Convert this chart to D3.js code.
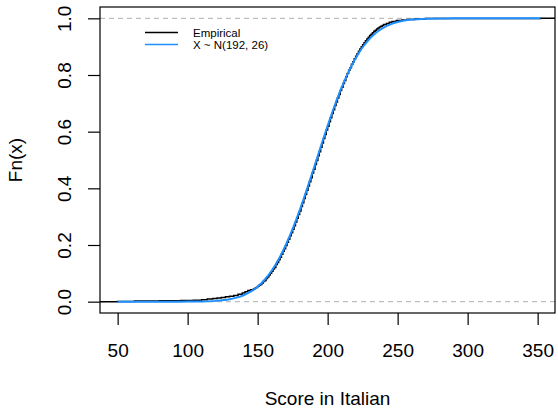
<!DOCTYPE html>
<html>
<head>
<meta charset="utf-8">
<script src="https://cdn.jsdelivr.net/npm/d3@7"></script>
<style>
  body { margin: 0; background: #fff; }
  svg { font-family: "Liberation Sans", Arial, Helvetica, sans-serif; }
</style>
</head>
<body>
<svg id="chart"></svg>
<script>
// empirical cdf knots (score, Fn)
const empX = [50, 62, 80, 95, 104, 110, 114, 118, 121, 124, 127, 130, 133, 136, 139, 141, 143, 145, 147,
  148, 149, 150, 151, 152, 153, 154, 155, 156, 157, 158, 159, 160, 161, 162, 163, 164, 165, 166, 167, 168, 169,
  170, 171, 172, 173, 174, 175, 176, 177, 178, 179, 180, 181, 182, 183, 184, 185, 186, 187, 188, 189,
  190, 191, 192, 193, 194, 195, 196, 197, 198, 199, 200, 201, 202, 203, 204, 205, 206, 207, 208, 209,
  210, 211, 212, 213, 214, 215, 216, 217, 218, 219, 220, 221, 222, 223, 224, 225, 226, 227, 228, 229,
  230, 231, 232, 233, 234, 235, 236, 237, 238, 239, 240, 242, 244, 246, 249, 253, 257, 262, 270, 352];
const empY = [0.001, 0.002, 0.003, 0.004, 0.005, 0.007, 0.009, 0.011, 0.013, 0.015, 0.017, 0.019, 0.022, 0.026, 0.031, 0.035, 0.039, 0.042, 0.045,
  0.047, 0.050, 0.054, 0.058, 0.061, 0.066, 0.071, 0.075, 0.082, 0.087, 0.094, 0.100, 0.107, 0.115, 0.121, 0.131, 0.138, 0.148, 0.157, 0.167, 0.178, 0.187,
  0.198, 0.210, 0.220, 0.233, 0.243, 0.256, 0.268, 0.281, 0.294, 0.308, 0.320, 0.336, 0.349, 0.364, 0.378, 0.393, 0.408, 0.423, 0.437, 0.454,
  0.467, 0.484, 0.498, 0.515, 0.529, 0.545, 0.560, 0.576, 0.590, 0.606, 0.619, 0.635, 0.649, 0.664, 0.677, 0.692, 0.705, 0.719, 0.731, 0.745,
  0.757, 0.770, 0.781, 0.794, 0.805, 0.817, 0.826, 0.838, 0.847, 0.857, 0.866, 0.875, 0.884, 0.892, 0.900, 0.907, 0.914, 0.921, 0.927, 0.933,
  0.939, 0.944, 0.949, 0.954, 0.958, 0.962, 0.966, 0.969, 0.972, 0.975, 0.978, 0.982, 0.986, 0.989, 0.992, 0.994, 0.996, 0.998, 0.999, 1.0];

// fitted normal N(192, 26) cdf, read at these scores
const normX = [50, 60, 70, 80, 90, 100, 110, 120, 130, 135, 140, 145, 150, 155, 160, 165, 170, 175, 180, 185,
  190, 195, 200, 205, 210, 215, 220, 225, 230, 235, 240, 245, 250, 255, 260, 270, 280, 290, 300, 320, 352];
const normY = [0, 0, 0, 0, 0.00003, 0.0002, 0.0008, 0.0028, 0.0085, 0.0142, 0.0228, 0.0353, 0.053, 0.0774, 0.109, 0.1496, 0.199, 0.2566, 0.322, 0.394,
  0.469, 0.546, 0.621, 0.6915, 0.756, 0.812, 0.859, 0.898, 0.928, 0.951, 0.9676, 0.979, 0.987, 0.9923, 0.9955, 0.99865, 0.99964, 0.9999, 1, 1, 1];

const xTicks = [50, 100, 150, 200, 250, 300, 350];
const yTicks = [0, 0.2, 0.4, 0.6, 0.8, 1];
const legendLabels = ['Empirical', 'X ~ N(192, 26)'];

const W = 558, H = 415;
const margin = { top: 7, right: 3, bottom: 102, left: 100 };
const width = W - margin.left - margin.right;
const height = H - margin.top - margin.bottom;

const svg = d3.select('#chart').attr('width', W).attr('height', H);
const g = svg.append('g').attr('transform', `translate(${margin.left},${margin.top})`);

const x = d3.scaleLinear().domain([37.4, 362.4]).range([0, width]);
const y = d3.scaleLinear().domain([-0.04, 1.04]).range([height, 0]);

// gray dashed reference lines at 0 and 1
g.selectAll('line.ref')
  .data([0, 1])
  .enter().append('line')
  .attr('class', 'ref')
  .attr('x1', 0).attr('x2', width)
  .attr('y1', d => y(d)).attr('y2', d => y(d))
  .attr('stroke', '#bebebe').attr('stroke-width', 1.2)
  .attr('stroke-dasharray', '5,4');

// empirical step function, extended to the plot edges
const empPts = [[x.domain()[0], 0]].concat(empX.map((v, i) => [v, empY[i]]), [[x.domain()[1], 1]]);
g.append('path')
  .datum(empPts)
  .attr('fill', 'none')
  .attr('stroke', '#000')
  .attr('stroke-width', 1.5)
  .attr('d', d3.line().x(d => x(d[0])).y(d => y(d[1])).curve(d3.curveStepAfter));

// normal cdf
g.append('path')
  .datum(normX.map((v, i) => [v, normY[i]]))
  .attr('fill', 'none')
  .attr('stroke', '#1E90FF')
  .attr('stroke-width', 2)
  .attr('d', d3.line().x(d => x(d[0])).y(d => y(d[1])).curve(d3.curveMonotoneX));

// box
g.append('rect')
  .attr('x', 0).attr('y', 0)
  .attr('width', width).attr('height', height)
  .attr('fill', 'none').attr('stroke', '#000').attr('stroke-width', 1.2);

// axes
const xAxis = d3.axisBottom(x).tickValues(xTicks).tickSize(12).tickFormat(d3.format('d'));
const yAxis = d3.axisLeft(y).tickValues(yTicks).tickSize(12).tickFormat(d3.format('.1f'));

const gx = g.append('g').attr('transform', `translate(0,${height})`).call(xAxis);
gx.select('.domain').remove();
gx.selectAll('line').attr('stroke-width', 1.2);
gx.selectAll('text').attr('font-size', 19).attr('fill', '#000')
  .attr('font-family', '"Liberation Sans", Arial, sans-serif')
  .attr('dy', null).attr('y', 44);

const gy = g.append('g').call(yAxis);
gy.select('.domain').remove();
gy.selectAll('line').attr('stroke-width', 1.2);
gy.selectAll('text')
  .attr('font-size', 19).attr('fill', '#000')
  .attr('font-family', '"Liberation Sans", Arial, sans-serif')
  .attr('x', null).attr('dy', null)
  .attr('text-anchor', 'middle')
  .attr('transform', 'translate(-29,0) rotate(-90)');

// axis titles
svg.append('text')
  .attr('x', margin.left + width / 2).attr('y', 405)
  .attr('text-anchor', 'middle').attr('font-size', 19)
  .text('Score in Italian');

svg.append('text')
  .attr('transform', `translate(22,${margin.top + height / 2}) rotate(-90)`)
  .attr('text-anchor', 'middle').attr('font-size', 19)
  .text('Fn(x)');

// legend
const legend = svg.append('g').attr('transform', 'translate(145,32.5)');
const legendColors = ['#000', '#1E90FF'];
legendLabels.forEach((lab, i) => {
  legend.append('line')
    .attr('x1', 0).attr('x2', 33)
    .attr('y1', i * 12).attr('y2', i * 12)
    .attr('stroke', legendColors[i]).attr('stroke-width', 1.6);
  legend.append('text')
    .attr('x', 48).attr('y', i * 12 + 4)
    .attr('font-size', 11.5)
    .text(lab);
});
</script>
</body>
</html>
